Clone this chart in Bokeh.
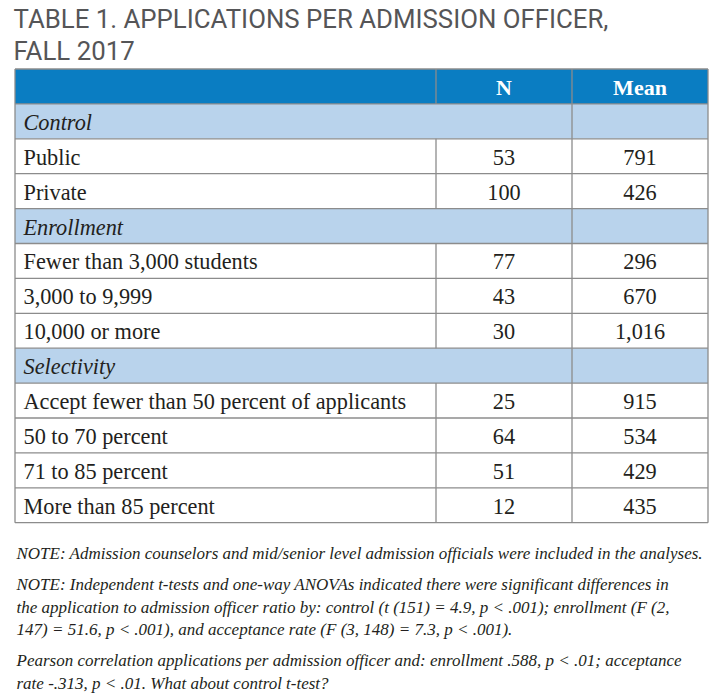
from bokeh.plotting import figure
from bokeh.models import Range1d, ColumnDataSource
from bokeh.core.properties import value
from bokeh.embed import file_html
from bokeh.resources import INLINE

# ---------------- data ----------------
title_lines = ["TABLE 1. APPLICATIONS PER ADMISSION OFFICER,", "FALL 2017"]
col_headers = ["N", "Mean"]
section_names = ["Control", "Enrollment", "Selectivity"]

control_labels = ["Public", "Private"]
control_n = [53, 100]
control_mean = [791, 426]

enroll_labels = ["Fewer than 3,000 students", "3,000 to 9,999", "10,000 or more"]
enroll_n = [77, 43, 30]
enroll_mean = [296, 670, 1016]

select_labels = ["Accept fewer than 50 percent of applicants", "50 to 70 percent",
                 "71 to 85 percent", "More than 85 percent"]
select_n = [25, 64, 51, 12]
select_mean = [915, 534, 429, 435]

notes = [
    "NOTE: Admission counselors and mid/senior level admission officials were included in the analyses.",
    "NOTE: Independent t-tests and one-way ANOVAs indicated there were significant differences in",
    "the application to admission officer ratio by: control (t (151) = 4.9, p < .001); enrollment (F (2,",
    "147) = 51.6, p < .001), and acceptance rate (F (3, 148) = 7.3, p < .001).",
    "Pearson correlation applications per admission officer and: enrollment .588, p < .01; acceptance",
    "rate -.313, p < .01. What about control t-test?",
]
note_gap_after = [1, 0, 0, 1, 0, 0]  # paragraph breaks

# ---------------- layout ----------------
W, H = 718, 697
LEFT, C1, C2, RIGHT = 14.5, 435.5, 571.5, 707.5
TOP = 68.5
ROW_H = 34.9
MID = 18.4  # text centre offset from row top

HEADER_BLUE = "#0a7dc2"
SECTION_BLUE = "#b9d3ec"
GRID = "#8c8c8c"
TEXT = "#231f20"
SERIF = value("Liberation Serif")
BODY_SIZE = "22.3px"

groups = [
    (section_names[0], control_labels, control_n, control_mean),
    (section_names[1], enroll_labels, enroll_n, enroll_mean),
    (section_names[2], select_labels, select_n, select_mean),
]

rows = []  # (kind, label, n, mean)
rows.append(("header", "", col_headers[0], col_headers[1]))
for sec, labels, ns, means in groups:
    rows.append(("section", sec, "", ""))
    for lab, n, m in zip(labels, ns, means):
        rows.append(("data", lab, f"{n:,}", f"{m:,}"))

p = figure(width=W, height=H, output_backend="svg", toolbar_location=None,
           x_range=Range1d(0, W), y_range=Range1d(H, 0),
           min_border=0, outline_line_color=None)
p.axis.visible = False
p.grid.visible = False
p.background_fill_color = "white"
p.border_fill_color = "white"

tops = [TOP + i * ROW_H for i in range(len(rows))]
bottoms = [t + ROW_H for t in tops]
mids = [t + MID for t in tops]
fills = [HEADER_BLUE if r[0] == "header" else SECTION_BLUE if r[0] == "section" else "white" for r in rows]

p.quad(left=[LEFT] * len(rows), right=[RIGHT] * len(rows), top=tops, bottom=bottoms,
       fill_color=fills, line_color=None)

# horizontal grid lines
hy = [TOP] + bottoms
p.segment(x0=[LEFT] * len(hy), x1=[RIGHT] * len(hy), y0=hy, y1=hy, line_color=GRID, line_width=1.3)
# outer verticals
p.segment(x0=[LEFT, RIGHT], x1=[LEFT, RIGHT], y0=[TOP, TOP], y1=[bottoms[-1]] * 2,
          line_color=GRID, line_width=1.3)
# inner verticals
vx0, vy0, vy1 = [], [], []
for r, t, b in zip(rows, tops, bottoms):
    if r[0] != "section":
        vx0.append(C1); vy0.append(t); vy1.append(b)
    vx0.append(C2); vy0.append(t); vy1.append(b)
p.segment(x0=vx0, x1=vx0, y0=vy0, y1=vy1, line_color=GRID, line_width=1.3)

# header texts
hdr = rows[0]
p.text(x=[(C1 + C2) / 2, (C2 + RIGHT) / 2], y=[mids[0]] * 2, text=[hdr[2], hdr[3]],
       text_align="center", text_baseline="middle", text_color="white",
       text_font=SERIF, text_font_style="bold", text_font_size="22px")

# section labels
sec_idx = [i for i, r in enumerate(rows) if r[0] == "section"]
p.text(x=[23] * len(sec_idx), y=[mids[i] for i in sec_idx], text=[rows[i][1] for i in sec_idx],
       text_align="left", text_baseline="middle", text_color=TEXT,
       text_font=SERIF, text_font_style="italic", text_font_size=BODY_SIZE)

# data rows
dat_idx = [i for i, r in enumerate(rows) if r[0] == "data"]
src = ColumnDataSource(dict(
    y=[mids[i] for i in dat_idx],
    label=[rows[i][1] for i in dat_idx],
    n=[rows[i][2] for i in dat_idx],
    mean=[rows[i][3] for i in dat_idx],
))
p.text(x=23, y="y", text="label", source=src, text_align="left", text_baseline="middle",
       text_color=TEXT, text_font=SERIF, text_font_size=BODY_SIZE)
p.text(x=(C1 + C2) / 2, y="y", text="n", source=src, text_align="center", text_baseline="middle",
       text_color=TEXT, text_font=SERIF, text_font_size=BODY_SIZE)
p.text(x=(C2 + RIGHT) / 2, y="y", text="mean", source=src, text_align="center", text_baseline="middle",
       text_color=TEXT, text_font=SERIF, text_font_size=BODY_SIZE)

# title
p.text(x=[13, 13], y=[18.2, 50.2], text=title_lines, text_align="left", text_baseline="middle",
       text_color="#555557", text_font=value("Roboto"), text_font_size="25.8px")

# notes
ny = []
y = 559 - 5.7
for i, gap in enumerate(note_gap_after):
    ny.append(y)
    y += 22.5 + (8.5 if gap else 0)
p.text(x=[16] * len(notes), y=ny, text=notes, text_align="left", text_baseline="middle",
       text_color=TEXT, text_font=SERIF, text_font_style="italic", text_font_size="17px")

open("out.html", "w").write(file_html(p, INLINE))
